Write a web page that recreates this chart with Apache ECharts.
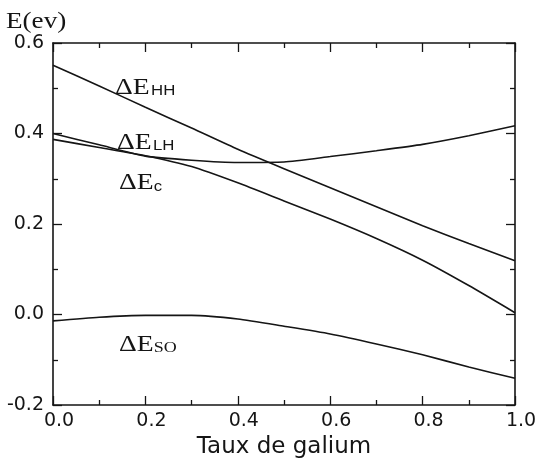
<!DOCTYPE html>
<html>
<head>
<meta charset="utf-8">
<script src="https://cdn.jsdelivr.net/npm/echarts@6/dist/echarts.min.js"></script>
<style>
  html, body { margin: 0; padding: 0; background: #ffffff; }
  #chart { width: 541px; height: 465px; }
</style>
</head>
<body>
<div id="chart"></div>
<script>
// ---- data ----
var galium = [0.0, 0.1, 0.2, 0.3, 0.4, 0.5, 0.6, 0.7, 0.8, 0.9, 1.0];
var dE_HH = [0.551, 0.505, 0.458, 0.412, 0.365, 0.322, 0.280, 0.238, 0.196, 0.157, 0.119];
var dE_LH = [0.400, 0.375, 0.350, 0.341, 0.336, 0.337, 0.349, 0.362, 0.376, 0.395, 0.417];
var dE_c  = [0.387, 0.369, 0.351, 0.327, 0.291, 0.251, 0.211, 0.168, 0.120, 0.064, 0.004];
var dE_SO = [-0.014, -0.006, -0.002, -0.002, -0.010, -0.026, -0.043, -0.065, -0.089, -0.116, -0.141];
var xTicks = [0.0, 0.2, 0.4, 0.6, 0.8, 1.0];
var yTicks = [-0.2, 0.0, 0.2, 0.4, 0.6];

function pairs(ys) { return galium.map(function (x, i) { return [x, ys[i]]; }); }

var chart = echarts.init(document.getElementById('chart'));
var ink = '#151515';
var tickCommon = { show: true, inside: true, length: 9, lineStyle: { color: ink, width: 1.3 } };
var minorCommon = { show: true, splitNumber: 2, length: 5, lineStyle: { color: ink, width: 1.3 } };
var lineCommon = { show: true, onZero: false, lineStyle: { color: ink, width: 1.6 } };

function lineSeries(name, ys) {
  return {
    name: name, type: 'line', data: pairs(ys), showSymbol: false, symbol: 'none',
    smooth: 0.2, lineStyle: { color: ink, width: 1.6 }, silent: true, animation: false
  };
}

function bandLabel(x, y, sub, subFont, subDx, subDy) {
  return { type: 'group', left: x, top: y, scaleX: 1.2, children: [
    { type: 'text', x: 0, y: 0, style: { text: 'ΔE', font: '23px "Liberation Serif"', fill: ink } },
    { type: 'text', x: subDx, y: subDy, style: { text: sub, font: subFont, fill: ink } }
  ]};
}

chart.setOption({
  backgroundColor: '#ffffff',
  animation: false,
  grid: { left: 53, right: 26, top: 43, bottom: 60 },
  xAxis: [{
    type: 'value', min: 0, max: 1, interval: 0.2, position: 'bottom',
    axisLine: lineCommon, axisTick: tickCommon, minorTick: minorCommon,
    splitLine: { show: false },
    axisLabel: {
      color: ink, fontFamily: 'DejaVu Sans', fontSize: 19, margin: 7,
      padding: [0, 0, 0, 12],
      formatter: function (v) { return v.toFixed(1); }
    },
    name: 'Taux de galium', nameLocation: 'middle', nameGap: 31,
    nameTextStyle: { color: ink, fontFamily: 'DejaVu Sans', fontSize: 23 }
  }, {
    type: 'value', min: 0, max: 1, interval: 0.2, position: 'top',
    axisLine: lineCommon, axisTick: tickCommon, minorTick: minorCommon,
    splitLine: { show: false }, axisLabel: { show: false }
  }],
  yAxis: [{
    type: 'value', min: -0.2, max: 0.6, interval: 0.2, position: 'left',
    axisLine: lineCommon, axisTick: tickCommon, minorTick: minorCommon,
    splitLine: { show: false },
    axisLabel: {
      color: ink, fontFamily: 'DejaVu Sans', fontSize: 19, margin: 9,
      padding: [8, 0, 0, 0],
      formatter: function (v) { return v.toFixed(1); }
    }
  }, {
    type: 'value', min: -0.2, max: 0.6, interval: 0.2, position: 'right',
    axisLine: lineCommon, axisTick: tickCommon, minorTick: minorCommon,
    splitLine: { show: false }, axisLabel: { show: false }
  }],
  series: [
    lineSeries('ΔE_HH', dE_HH),
    lineSeries('ΔE_LH', dE_LH),
    lineSeries('ΔE_c', dE_c),
    lineSeries('ΔE_SO', dE_SO)
  ],
  graphic: [
    { type: 'text', left: 6, top: 10, scaleX: 1.18, style: { text: 'E(ev)', font: '23px "Liberation Serif"', fill: ink } },
    bandLabel(115, 76, 'HH', '14px "Liberation Sans"', 30, 8),
    bandLabel(117, 131, 'LH', '14px "Liberation Sans"', 30, 8),
    bandLabel(119, 171, 'c', '14px "Liberation Sans"', 29, 9),
    bandLabel(119, 333, 'SO', '15px "Liberation Serif"', 29, 8)
  ]
});
</script>
</body>
</html>
